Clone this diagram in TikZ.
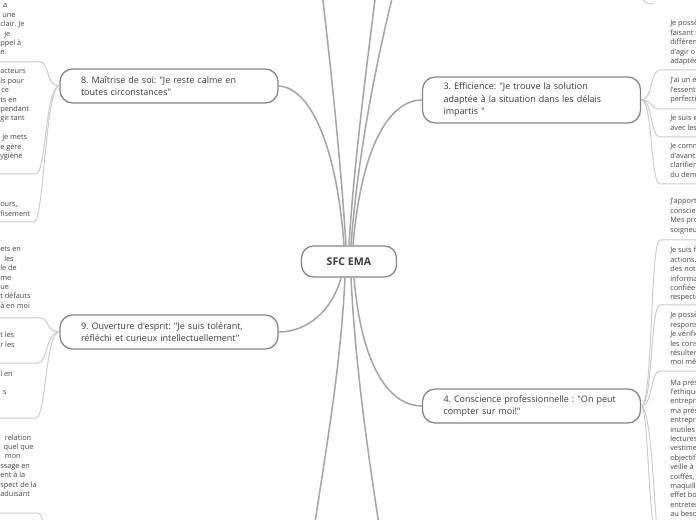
\documentclass[tikz,border=0pt]{standalone}
\usepackage{fontspec}
\setmainfont{Open Sans}[Ligatures=TeXOff]
\usetikzlibrary{calc}
\definecolor{txtc}{HTML}{3C3C3C}
\definecolor{leaftxt}{HTML}{474747}
\definecolor{bordc}{HTML}{858585}
\definecolor{connc}{HTML}{A6A6A6}
\definecolor{leafc}{HTML}{CCCCCC}
\newcommand{\lftext}[1]{\parbox[t]{90pt}{\raggedright #1}}
\frenchspacing
\begin{document}
\frenchspacing
\begin{tikzpicture}[x=0.75pt,y=-0.75pt,
  mainbox/.style={draw=bordc, line width=0.95pt, rounded corners=9.5pt, fill=white, text=txtc,
    font=\fontsize{6.75}{9.3}\selectfont, align=left, text width=132pt, inner xsep=15.75pt,
    inner ysep=2pt, minimum height=25.5pt},
  centrebox/.style={draw=bordc, line width=0.95pt, rounded corners=9pt, fill=white, text=txtc,
    font=\fontsize{8}{9}\selectfont\bfseries, minimum width=71.25pt, minimum height=23.25pt, inner sep=0pt},
  mainline/.style={draw=connc, line width=1.15pt},
  leafline/.style={draw=leafc, line width=0.75pt},
  leafbox/.style={anchor=base west, inner sep=0pt, text=leaftxt, font=\fontsize{5.5}{7.05}\selectfont},
]
\fill[white] (0,0) rectangle (696,520);
\useasboundingbox (0,0) rectangle (696,520);
\clip (0,0) rectangle (696,520);

% main nodes
\node[centrebox] (c) at (349,261.5) {SFC EMA};
\node[mainbox] (n8) at (169,86) {8. Maîtrise de soi: "Je reste calme en\\toutes circonstances"};
\node[mainbox] (n9) at (169,332) {9. Ouverture d'esprit: "Je suis tolérant,\\réfléchi et curieux intellectuellement"};
\node[mainbox, minimum height=34.5pt] (n3) at (531.5,100) {3. Efficience: "Je trouve la solution\\adaptée à la situation dans les délais\\impartis\ "};
\node[mainbox] (n4) at (531.5,406) {4. Conscience professionnelle : "On peut\\compter sur moi!"};

% left leaves
\node[leafbox] (l8a) at (0,8) {\lftext{\hspace*{2.2pt}a\\\hspace*{1.5pt}une\\clair. Je\\\hspace*{3pt}je\\ppel à\\e.}};
\node[leafbox] (l8b) at (0,74) {\lftext{acteurs\\ls pour\\\hspace*{0.8pt}ce\\ts en\\pendant\\gir tant\\\mbox{}\\\hspace*{1.5pt}je mets\\e gère\\ygiène}};
\node[leafbox] (l8c) at (0,207) {\lftext{ours,\\fisement}};
\node[leafbox] (l9a) at (0,252) {\lftext{ets en\\\hspace*{3pt}les\\le de\\me\\ue\\t défauts\\à en moi}};
\node[leafbox] (l9b) at (0,338) {\lftext{t les\\r les}};
\node[leafbox] (l9c) at (0,376) {\lftext{l en\\\mbox{}\\\hspace*{2pt}s}};
\node[leafbox] (lb) at (0,440) {\lftext{\hspace*{3.5pt}relation\\\hspace*{2.5pt}quel que\\\hspace*{3.5pt}mon\\ssage en\\ent à la\\spect de la\\aduisant}};

% right leaves
\node[leafbox] (r3a) at (670,26) {\lftext{Je possè\\faisant l\\différen\\d'agir o\\adaptée}};
\node[leafbox] (r3b) at (670,83) {\lftext{J'ai un e\\l'essenti\\perfecti}};
\node[leafbox] (r3c) at (670,121) {\lftext{Je suis e\\avec les}};
\node[leafbox] (r3d) at (670,149) {\lftext{Je comm\\d'avanc\\clarifier\\du dem}};
\node[leafbox] (r4a) at (670,204) {\lftext{J'apporte\\conscien\\Mes pro\\soigneus}};
\node[leafbox] (r4b) at (670,253) {\lftext{Je suis fl\\actions.\\des note\\informat\\confiées\\respecte}};
\node[leafbox] (r4c) at (670,318) {\lftext{Je possè\\respons\\Je vérifie\\les conse\\résulter.\\moi mêm}};
\node[leafbox] (r4d) at (670,385) {\lftext{Ma prése\\l'ethique\\entrepri\\ma prése\\entrepri\\inutiles\\lectures.\\vestimen\\objectif\\veille à n\\coiffés, l\\maquillé\\effet bo\\entreten\\au besoi}};

% free ends
\coordinate (tA) at (318,-40);
\coordinate (tB) at (380,-40);
\coordinate (tC) at (402,-40);
\coordinate (bL) at (308,570);
\coordinate (bR) at (386,570);

% main connectors
\draw[mainline] ($(c.north)+(-5,0)$) .. controls (337,150) and (312,88) .. (n8.east);
\draw[mainline] ($(c.south)+(-8,0)$) .. controls (332,312) and (306,332) .. (n9.east);
\draw[mainline] ($(c.north)+(4,0)$) .. controls (362,140) and (392,100) .. (n3.west);
\draw[mainline] ($(c.south)+(5,0)$) .. controls (362,372) and (392,406) .. (n4.west);
\draw[mainline] ($(c.north)+(-3,0)$) .. controls (340,150) and (328,40) .. (tA);
\draw[mainline] ($(c.north)+(0,0)$) .. controls (354,160) and (370,40) .. (tB);
\draw[mainline] ($(c.north)+(2,0)$) .. controls (358,150) and (380,40) .. (tC);
\draw[mainline] ($(c.south)+(-4,0)$) .. controls (340,380) and (322,470) .. (bL);
\draw[mainline] ($(c.south)+(2,0)$) .. controls (356,380) and (372,480) .. (bR);

% underline ends
\coordinate (u8a) at (40,62);
\coordinate (u8b) at (36,174);
\coordinate (u8c) at (34,222);
\coordinate (u9a) at (40,318);
\coordinate (u9b) at (38,363);
\coordinate (u9c) at (36,418);
\coordinate (ub) at (38,513);
\coordinate (jb) at (61,590);
\coordinate (u3a) at (660,70);
\coordinate (u3b) at (660,109);
\coordinate (u3c) at (660,137);
\coordinate (u3d) at (660,184);
\coordinate (u4a) at (660,240);
\coordinate (u4b) at (660,305);
\coordinate (u4c) at (660,371);
\coordinate (d4a) at (660,548);
\coordinate (d4b) at (666,600);
\coordinate (tr1) at (642,-6);
\coordinate (tr2) at (654,4);

% leaf connectors, left
\foreach \u in {u8a,u8b,u8c}
  \draw[leafline] (n8.west) .. controls +(-14,0) and +(10,0) .. (\u) -- ++(-50,0);
\foreach \u in {u9a,u9b,u9c}
  \draw[leafline] (n9.west) .. controls +(-14,0) and +(10,0) .. (\u) -- ++(-50,0);
\draw[leafline] (jb) .. controls +(-14,0) and +(10,0) .. (ub) -- ++(-50,0);

% leaf connectors, right
\foreach \u in {u3a,u3b,u3c,u3d}
  \draw[leafline] (n3.east) .. controls +(12,0) and +(-10,0) .. (\u) -- ++(50,0);
\foreach \u in {u4a,u4b,u4c}
  \draw[leafline] (n4.east) .. controls +(12,0) and +(-10,0) .. (\u) -- ++(50,0);
\draw[leafline] (n4.east) .. controls +(8,0) and +(-12,0) .. (d4a);
\draw[leafline] (n4.east) .. controls +(14,0) and +(-10,0) .. (d4b);
\draw[leafline] (tr1) .. controls (642,2) and (646,4) .. (tr2);
\end{tikzpicture}
\end{document}
